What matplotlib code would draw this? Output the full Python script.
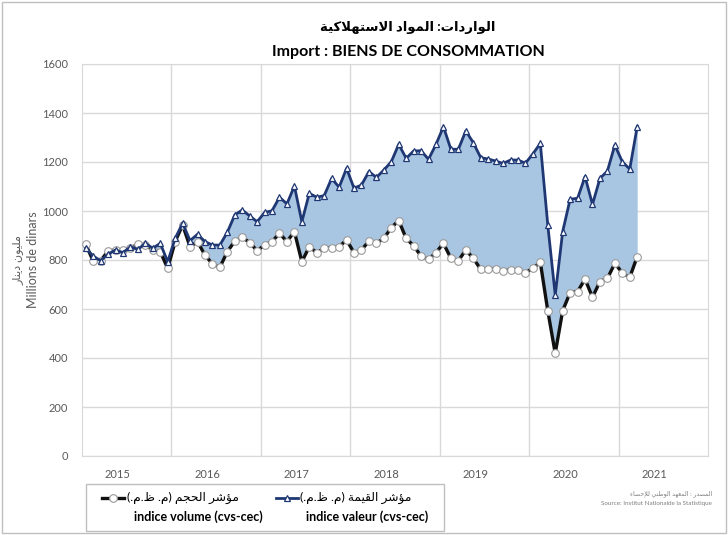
import matplotlib
matplotlib.use('Agg')  # Use a non-GUI backend

import matplotlib.pyplot as plt
from matplotlib.lines import Line2D
from matplotlib.patches import Rectangle

plt.rcParams['font.family'] = ['Lato', 'DejaVu Sans']

# Data: monthly indices, Jan 2015 - Mar 2021 (millions de dinars)
years = ['2015', '2016', '2017', '2018', '2019', '2020', '2021']
valeur = [848, 816, 797, 824, 841, 830, 854, 843, 868, 848, 868, 793,
          888, 950, 879, 905, 875, 861, 861, 913, 984, 1004, 980, 956,
          994, 1001, 1056, 1029, 1102, 956, 1072, 1056, 1063, 1133, 1097, 1174,
          1093, 1106, 1161, 1137, 1167, 1201, 1272, 1215, 1245, 1246, 1211, 1272,
          1344, 1252, 1252, 1327, 1279, 1218, 1212, 1204, 1194, 1208, 1208, 1195,
          1233, 1276, 943, 657, 916, 1048, 1052, 1140, 1027, 1133, 1163, 1269,
          1201, 1171, 1344]
volume = [864, 796, 797, 837, 841, 841, 848, 865, 861, 841, 834, 766,
          875, 943, 854, 875, 820, 784, 770, 834, 877, 893, 871, 838,
          861, 875, 909, 875, 916, 793, 854, 830, 848, 850, 854, 882,
          830, 841, 877, 868, 888, 932, 961, 888, 858, 816, 803, 830,
          868, 807, 797, 841, 807, 762, 762, 762, 756, 759, 759, 748,
          766, 791, 593, 419, 593, 667, 671, 722, 648, 712, 725, 786,
          748, 729, 814]

# minimal Arabic shaping (presentation forms) since matplotlib has no RTL layout
AR_DUAL = {'ب': 0xFE8F, 'ت': 0xFE95, 'ج': 0xFE9D, 'ح': 0xFEA1, 'س': 0xFEB1,
           'ش': 0xFEB5, 'ص': 0xFEB9, 'ط': 0xFEC1, 'ظ': 0xFEC5, 'ع': 0xFEC9,
           'ق': 0xFED5, 'ك': 0xFED9, 'ل': 0xFEDD, 'م': 0xFEE1, 'ن': 0xFEE5,
           'ه': 0xFEE9, 'ي': 0xFEF1}
AR_RIGHT = {'ا': 0xFE8D, 'أ': 0xFE83, 'إ': 0xFE87, 'ؤ': 0xFE85, 'ة': 0xFE93,
            'د': 0xFEA9, 'ر': 0xFEAD, 'و': 0xFEED,
            'لا': 0xFEFB, 'لإ': 0xFEF9, 'لأ': 0xFEF7}


def shape_ar(text):
    toks = []
    i = 0
    while i < len(text):
        if text[i] == 'ل' and i + 1 < len(text) and text[i + 1] in 'اأإ':
            toks.append(text[i:i + 2])
            i += 2
        else:
            toks.append(text[i])
            i += 1
    out = []
    for j, t in enumerate(toks):
        if t in AR_DUAL or t in AR_RIGHT:
            prev = toks[j - 1] if j > 0 else ''
            nxt = toks[j + 1] if j + 1 < len(toks) else ''
            jp = prev in AR_DUAL
            jn = t in AR_DUAL and (nxt in AR_DUAL or nxt in AR_RIGHT)
            base = AR_DUAL.get(t, AR_RIGHT.get(t))
            off = 3 if (jp and jn) else 2 if jn else 1 if jp else 0
            out.append(chr(base + off))
        else:
            out.append({'(': ')', ')': '('}.get(t, t))
    return ''.join(reversed(out))


W, H = 728, 535
fig = plt.figure(figsize=(W / 100, H / 100), dpi=100)
ax = fig.add_axes([82 / W, 1 - 456 / H, 626 / W, 392 / H])

x = list(range(len(valeur)))
navy = '#1F3874'
vol_style = dict(color='#111111', lw=2.4, marker='o', ms=5.5,
                 mfc='white', mec='#9A9A9A', mew=0.8)
val_style = dict(color=navy, lw=2, marker='^', ms=5,
                 mfc='white', mec=navy, mew=0.9)
ax.fill_between(x, volume, valeur, color='#A8C5E2', lw=0, zorder=1)
ax.plot(x, volume, zorder=3, **vol_style)
ax.plot(x, valeur, zorder=4, **val_style)

ax.set_xlim(-0.5, 83.5)
ax.set_ylim(0, 1600)
ax.set_yticks(range(0, 1601, 200))
ax.set_xticks([12 * i + 4.3 for i in range(len(years))])
ax.set_xticklabels(years)
ax.set_xticks([12 * i + 11.5 for i in range(6)], minor=True)
ax.tick_params(axis='both', which='both', length=0, labelsize=8, colors='#595959')
ax.tick_params(axis='y', pad=10)
ax.tick_params(axis='x', pad=9)
ax.grid(axis='y', color='#D9D9D9', lw=1)
ax.grid(axis='x', which='minor', color='#D9D9D9', lw=1)
ax.set_axisbelow(True)
for s in ax.spines.values():
    s.set_color('#D9D9D9')

# titles
fig.text(408 / W, 1 - 28 / H, shape_ar('الواردات: المواد الاستهلاكية'),
         ha='center', va='center', fontsize=9.5, fontweight='bold')
fig.text(408 / W, 1 - 52 / H, 'Import : BIENS DE CONSOMMATION',
         ha='center', va='center', fontsize=11.5, fontweight='bold')

# y labels
fig.text(18 / W, 1 - 260 / H, shape_ar('مليون دينار'), rotation=90,
         ha='center', va='center', fontsize=8, color='#595959')
fig.text(33 / W, 1 - 260 / H, 'Millions de dinars', rotation=90,
         ha='center', va='center', fontsize=9, color='#595959')

# legend box
fig.patches.append(Rectangle((86 / W, 1 - 531 / H), 358 / W, 47 / H,
                             transform=fig.transFigure, fill=False,
                             ec='#BFBFBF', lw=1))
fig.lines.append(Line2D([102 / W, 113 / W, 124 / W], [1 - 498 / H] * 3,
                        transform=fig.transFigure, markevery=[1], **vol_style))
fig.lines.append(Line2D([276 / W, 287 / W, 298 / W], [1 - 498 / H] * 3,
                        transform=fig.transFigure, markevery=[1], **val_style))
fig.text(127 / W, 1 - 498 / H, shape_ar('مؤشر الحجم (م. ظ.م.)'),
         ha='left', va='center', fontsize=8.8)
fig.text(134 / W, 1 - 517 / H, 'indice volume (cvs-cec)',
         ha='left', va='center', fontsize=9, fontweight='bold')
fig.text(300 / W, 1 - 498 / H, shape_ar('مؤشر القيمة (م. ظ.م.)'),
         ha='left', va='center', fontsize=8.8)
fig.text(306 / W, 1 - 517 / H, 'indice valeur (cvs-cec)',
         ha='left', va='center', fontsize=9, fontweight='bold')

# source
fig.text(712 / W, 1 - 494 / H, shape_ar('المصدر : المعهد الوطني للإحصاء'),
         ha='right', va='center', fontsize=4.5, color='#7F7F7F')
fig.text(712 / W, 1 - 503 / H, 'Source: Institut Nationalde la Statistique',
         ha='right', va='center', fontsize=4.5, color='#7F7F7F')

# outer frame
fig.patches.append(Rectangle((2 / W, 2 / H), 1 - 4 / W, 1 - 4 / H,
                             transform=fig.transFigure, fill=False,
                             ec='#BFBFBF', lw=1))

fig.savefig('out.png', dpi=100)
